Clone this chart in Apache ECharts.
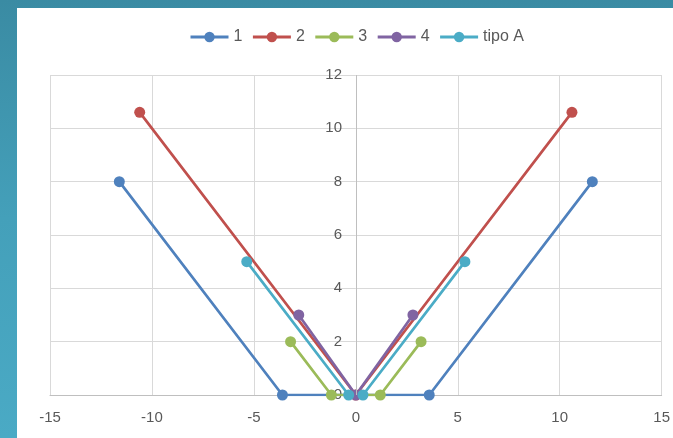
<!DOCTYPE html>
<html><head><meta charset="utf-8">
<script src="https://cdn.jsdelivr.net/npm/echarts@6/dist/echarts.min.js"></script>
<style>
html,body{margin:0;padding:0;width:673px;height:438px;overflow:hidden;}
body{background:linear-gradient(to bottom,#3a8ba3 0%,#44a0ba 50%,#4aaac5 100%);position:relative;}
#panel{position:absolute;left:17px;top:8px;right:0;bottom:0;background:#fff;}
#c{position:absolute;left:0;top:0;width:673px;height:438px;}
</style></head>
<body><div id="panel"></div><div id="c"></div>
<script>
const seriesNames = ['1','2','3','4','tipo A'];
const s1 = [[-11.6,8],[-3.6,0],[3.6,0],[11.6,8]];
const s2 = [[-10.6,10.6],[0,0],[10.6,10.6]];
const s3 = [[-3.2,2],[-1.2,0],[1.2,0],[3.2,2]];
const s4 = [[-2.8,3],[0,0],[2.8,3]];
const s5 = [[-5.35,5],[-0.35,0],[0.35,0],[5.35,5]];
const colors = ['#4f81bd','#c0504d','#9bbb59','#8064a2','#4bacc6'];
const xTicks = {min:-15,max:15,interval:5};
const yTicks = {min:0,max:12,interval:2};

const chart = echarts.init(document.getElementById('c'));
const font = "'Liberation Sans',Arial,sans-serif";
const data = [s1,s2,s3,s4,s5];
chart.setOption({
  animation:false,
  backgroundColor:'transparent',
  color:colors,
  textStyle:{fontFamily:font},
  legend:{top:24,left:184,itemWidth:38,itemHeight:13,itemGap:9,
    lineStyle:{width:3},
    textStyle:{color:'#595959',fontSize:16,fontFamily:font},
    data:seriesNames},
  grid:{left:50,right:11,top:75,bottom:43,containLabel:false},
  xAxis:{type:'value',min:xTicks.min,max:xTicks.max,interval:xTicks.interval,
    axisLine:{show:true,onZero:true,lineStyle:{color:'#bfbfbf'}},
    axisTick:{show:false},
    axisLabel:{color:'#595959',fontSize:15,margin:15,fontFamily:font},
    splitLine:{show:true,lineStyle:{color:'#d9d9d9'}}},
  yAxis:{type:'value',min:yTicks.min,max:yTicks.max,interval:yTicks.interval,
    axisLine:{show:false,onZero:false},
    axisTick:{show:false},
    axisLabel:{color:'#595959',fontSize:15,margin:-292,fontFamily:font},
    splitLine:{show:true,lineStyle:{color:'#d9d9d9'}}},
  series:data.map((d,i)=>({name:seriesNames[i],type:'line',data:d,
    symbol:'circle',symbolSize:11,lineStyle:{width:2.7},
    itemStyle:{color:colors[i]},
    markLine: i===0 ? {silent:true,symbol:'none',label:{show:false},
      lineStyle:{color:'#bfbfbf',type:'solid',width:1},data:[{xAxis:0}]} : undefined,
    z: 2}))
});
</script></body></html>
